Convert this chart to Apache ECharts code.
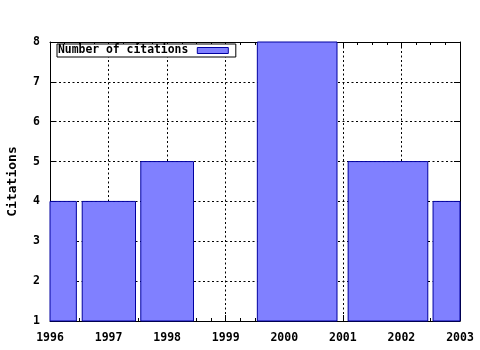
<!DOCTYPE html>
<html><head><meta charset="utf-8">
<script src="https://cdn.jsdelivr.net/npm/echarts@6/dist/echarts.min.js"></script>
<style>html,body{margin:0;padding:0;background:#fff}#c{width:480px;height:350px}</style>
</head><body><div id="c"></div>
<script>
// Bar extents (in years) and citation counts
const barStart = [1995.55, 1996.55, 1997.55, 1999.54, 2001.09, 2002.54];
const barEnd   = [1996.45, 1997.46, 1998.45, 2000.9, 2002.45, 2003.45];
const citations = [4, 4, 5, 8, 5, 4];
const yearTicks = [1996, 1997, 1998, 1999, 2000, 2001, 2002, 2003];
const seriesName = 'Number of citations';

const font = {fontFamily: 'DejaVu Sans Mono', fontWeight: 'bold', fontSize: 11.5, color: '#000'};
const data = citations.map((v, i) => [barStart[i], barEnd[i], v]);
const chart = echarts.init(document.getElementById('c'), null, {renderer: 'canvas'});
const dotted = {color: '#000', width: 1, type: [2, 2.5]};
chart.setOption({
  animation: false,
  backgroundColor: '#fff',
  grid: {left: 50, right: 20, top: 42, bottom: 29, show: false, containLabel: false, outerBoundsMode: 'none'},
  legend: {
    left: 57, top: 44, orient: 'horizontal', align: 'right',
    backgroundColor: '#fff', borderColor: '#000', borderWidth: 1, borderRadius: 0,
    padding: [1, 7, 1, 1], itemWidth: 31, itemHeight: 6,
    textStyle: Object.assign({}, font, {fontSize: 11.4, padding: [1, 4, 0, 0]}),
    data: [{name: seriesName, icon: 'rect', itemStyle: {color: '#8080ff', borderColor: '#0000a0', borderWidth: 1}}]
  },
  xAxis: [{
    type: 'value', min: yearTicks[0], max: yearTicks[yearTicks.length - 1], interval: 1, position: 'bottom',
    axisLine: {lineStyle: {color: '#000', width: 1}},
    axisTick: {show: true, inside: true, length: 6, lineStyle: {color: '#000'}},
    minorTick: {show: true, splitNumber: 4, length: 3, lineStyle: {color: '#000'}},
    splitLine: {show: true, lineStyle: dotted},
    axisLabel: Object.assign({}, font, {margin: 11, formatter: v => String(v)})
  }, {
    type: 'value', min: yearTicks[0], max: yearTicks[yearTicks.length - 1], interval: 1, position: 'top',
    axisLine: {show: true, lineStyle: {color: '#000', width: 1}},
    axisTick: {show: true, inside: true, length: 6, lineStyle: {color: '#000'}},
    minorTick: {show: true, splitNumber: 4, length: 3, lineStyle: {color: '#000'}},
    splitLine: {show: false}, axisLabel: {show: false}
  }],
  yAxis: [{
    type: 'value', min: 1, max: 8, interval: 1, position: 'left',
    name: 'Citations', nameLocation: 'middle', nameRotate: 90, nameGap: 31,
    nameTextStyle: Object.assign({}, font, {fontSize: 13}),
    axisLine: {show: true, lineStyle: {color: '#000', width: 1}},
    axisTick: {show: true, inside: true, length: 6, lineStyle: {color: '#000'}},
    splitLine: {show: true, lineStyle: dotted},
    axisLabel: Object.assign({}, font, {margin: 10})
  }, {
    type: 'value', min: 1, max: 8, interval: 1, position: 'right',
    axisLine: {show: true, lineStyle: {color: '#000', width: 1}},
    axisTick: {show: true, inside: true, length: 6, lineStyle: {color: '#000'}},
    splitLine: {show: false}, axisLabel: {show: false}
  }],
  series: [{
    type: 'custom', name: seriesName, xAxisIndex: 0, yAxisIndex: 0,
    encode: {x: [0, 1], y: 2},
    itemStyle: {color: '#8080ff', borderColor: '#0000a0', borderWidth: 1},
    renderItem: function (params, api) {
      const p0 = api.coord([api.value(0), api.value(2)]);
      const p1 = api.coord([api.value(1), 1]);
      const rect = echarts.graphic.clipRectByRect(
        {x: p0[0], y: p0[1], width: p1[0] - p0[0], height: p1[1] - p0[1]},
        {x: params.coordSys.x, y: params.coordSys.y, width: params.coordSys.width, height: params.coordSys.height});
      if (!rect) return null;
      return {type: 'rect', shape: rect, style: {fill: '#8080ff', stroke: '#0000a0', lineWidth: 1}};
    },
    data: data, z: 3
  }]
});
</script></body></html>
